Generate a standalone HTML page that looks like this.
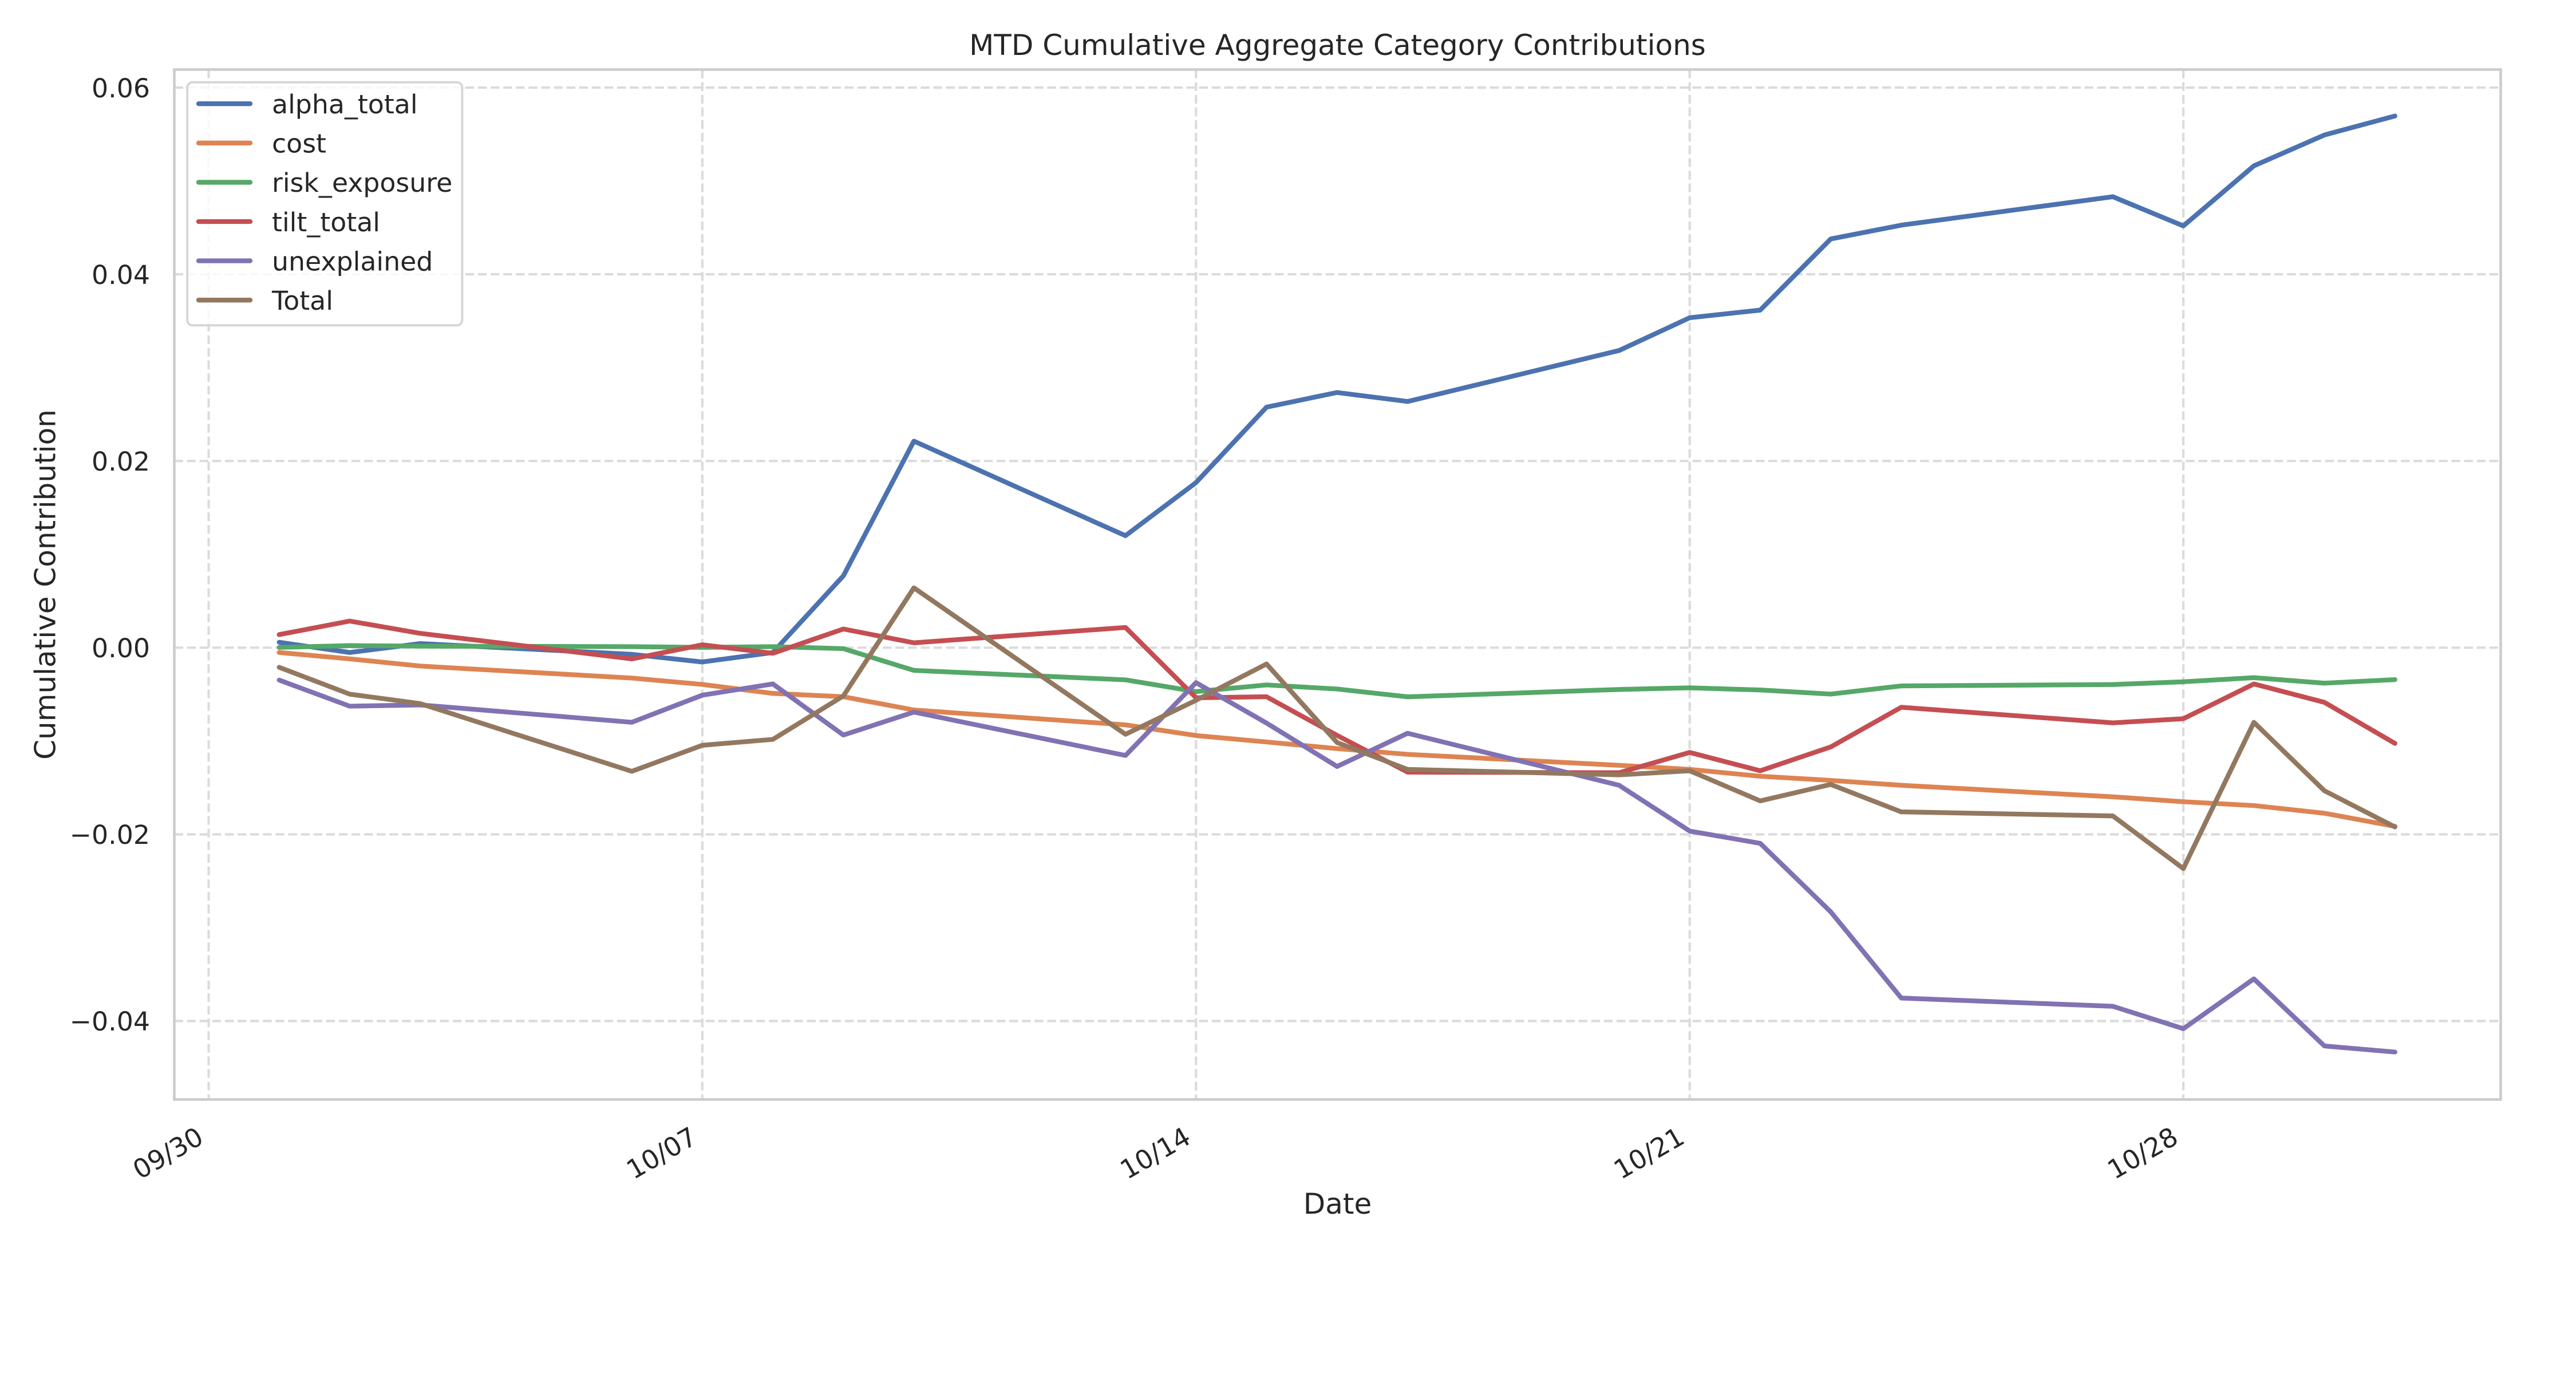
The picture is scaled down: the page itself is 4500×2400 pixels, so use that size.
<!DOCTYPE html>
<html>
<head>
<meta charset="utf-8">
<style>
  html, body { margin: 0; padding: 0; background: #ffffff; }
  svg { display: block; }
  text { font-family: "DejaVu Sans", "Liberation Sans", sans-serif; fill: #262626; }
</style>
</head>
<body>
<svg xmlns="http://www.w3.org/2000/svg" width="4500" height="2400" viewBox="0 0 4500 2400">
  <rect x="0" y="0" width="4500" height="2400" fill="#ffffff"/>

  <!-- Grid -->
  <g stroke="#dbdbdb" stroke-width="4.17" stroke-dasharray="15.4 6.7" fill="none">
    <line x1="304.5" y1="152.9" x2="4368.5" y2="152.9"/>
    <line x1="304.5" y1="479.1" x2="4368.5" y2="479.1"/>
    <line x1="304.5" y1="805.2" x2="4368.5" y2="805.2"/>
    <line x1="304.5" y1="1131.3" x2="4368.5" y2="1131.3"/>
    <line x1="304.5" y1="1457.4" x2="4368.5" y2="1457.4"/>
    <line x1="304.5" y1="1783.5" x2="4368.5" y2="1783.5"/>
    <line x1="364.5" y1="121.5" x2="364.5" y2="1920.5"/>
    <line x1="1226.9" y1="121.5" x2="1226.9" y2="1920.5"/>
    <line x1="2089.3" y1="121.5" x2="2089.3" y2="1920.5"/>
    <line x1="2951.7" y1="121.5" x2="2951.7" y2="1920.5"/>
    <line x1="3814.1" y1="121.5" x2="3814.1" y2="1920.5"/>
  </g>

  <!-- Series -->
  <g fill="none" stroke-width="8.33" stroke-linejoin="round" stroke-linecap="round">
    <polyline stroke="#4c72b0" points="487.7,1121.9 610.9,1139.7 734.1,1124.1 1103.7,1142.9 1226.9,1156.3 1350.1,1139.7 1473.3,1005.8 1596.5,770.5 1966.1,935.7 2089.3,842.9 2212.5,711.2 2335.7,685.6 2458.9,701.3 2828.5,612.2 2951.7,555.0 3074.9,541.7 3198.1,417.4 3321.3,393.3 3690.9,343.6 3814.1,394.6 3937.3,289.7 4060.5,235.8 4183.7,202.6"/>
    <polyline stroke="#dd8452" points="487.7,1139.7 610.9,1150.9 734.1,1163.4 1103.7,1184.4 1226.9,1195.5 1350.1,1211.2 1473.3,1217.0 1596.5,1240.2 1966.1,1266.1 2089.3,1284.8 2212.5,1296.0 2335.7,1307.6 2458.9,1317.6 2828.5,1336.8 2951.7,1343.9 3074.9,1355.9 3198.1,1363.1 3321.3,1371.7 3690.9,1391.8 3814.1,1400.4 3937.3,1407.1 4060.5,1420.5 4183.7,1443.4"/>
    <polyline stroke="#55a868" points="487.7,1130.8 610.9,1127.7 734.1,1128.6 1103.7,1129.5 1226.9,1130.8 1350.1,1129.5 1473.3,1133.0 1596.5,1171.0 1966.1,1187.5 2089.3,1208.0 2212.5,1196.4 2335.7,1203.5 2458.9,1217.2 2828.5,1204.3 2951.7,1201.4 3074.9,1205.2 3198.1,1212.4 3321.3,1198.1 3690.9,1195.7 3814.1,1190.9 3937.3,1183.7 4060.5,1193.3 4183.7,1187.1"/>
    <polyline stroke="#c44e52" points="487.7,1108.5 610.9,1084.8 734.1,1106.3 1103.7,1150.9 1226.9,1126.3 1350.1,1141.1 1473.3,1098.7 1596.5,1122.8 1966.1,1096.0 2089.3,1218.8 2212.5,1217.0 2335.7,1284.5 2458.9,1348.7 2828.5,1349.7 2951.7,1314.3 3074.9,1346.3 3198.1,1304.7 3321.3,1235.4 3690.9,1262.6 3814.1,1255.4 3937.3,1194.7 4060.5,1226.8 4183.7,1298.5"/>
    <polyline stroke="#8172b3" points="487.7,1187.9 610.9,1233.5 734.1,1231.3 1103.7,1261.6 1226.9,1214.3 1350.1,1194.6 1473.3,1283.9 1596.5,1243.8 1966.1,1319.6 2089.3,1192.4 2212.5,1263.0 2335.7,1338.8 2458.9,1280.8 2828.5,1371.7 2951.7,1451.6 3074.9,1473.1 3198.1,1592.7 3321.3,1743.3 3690.9,1757.7 3814.1,1796.9 3937.3,1709.8 4060.5,1827.0 4183.7,1837.6"/>
    <polyline stroke="#937860" points="487.7,1165.6 610.9,1212.5 734.1,1229.0 1103.7,1347.3 1226.9,1301.8 1350.1,1291.5 1473.3,1215.6 1596.5,1026.8 1966.1,1282.6 2089.3,1223.2 2212.5,1159.8 2335.7,1297.0 2458.9,1343.9 2828.5,1353.5 2951.7,1346.3 3074.9,1398.9 3198.1,1370.2 3321.3,1418.1 3690.9,1425.2 3814.1,1517.1 3937.3,1261.7 4060.5,1381.2 4183.7,1444.4"/>
  </g>

  <!-- Spines -->
  <rect x="304.5" y="121.5" width="4064" height="1799" fill="none" stroke="#cccccc" stroke-width="4.6"/>

  <!-- Y tick labels -->
  <g font-size="45.8" text-anchor="end">
    <text x="262" y="170">0.06</text>
    <text x="262" y="496">0.04</text>
    <text x="262" y="822">0.02</text>
    <text x="262" y="1148">0.00</text>
    <text x="262" y="1474">−0.02</text>
    <text x="262" y="1800">−0.04</text>
  </g>

  <!-- X tick labels -->
  <g font-size="45.8" text-anchor="end">
    <text transform="translate(358.5,1995) rotate(-30)">09/30</text>
    <text transform="translate(1220.9,1995) rotate(-30)">10/07</text>
    <text transform="translate(2083.3,1995) rotate(-30)">10/14</text>
    <text transform="translate(2945.7,1995) rotate(-30)">10/21</text>
    <text transform="translate(3808.1,1995) rotate(-30)">10/28</text>
  </g>

  <!-- Axis labels and title -->
  <text x="2336.5" y="2120" font-size="50" text-anchor="middle">Date</text>
  <text transform="translate(96.5,1021) rotate(-90)" font-size="50" text-anchor="middle">Cumulative Contribution</text>
  <text x="2336.5" y="96" font-size="50" text-anchor="middle">MTD Cumulative Aggregate Category Contributions</text>

  <!-- Legend -->
  <rect x="327.2" y="143.8" width="480.2" height="424.5" rx="9" ry="9" fill="#ffffff" fill-opacity="0.8" stroke="#d6d6d6" stroke-width="4"/>
  <g stroke-width="8.33" stroke-linecap="round">
    <line x1="347" y1="181.2" x2="437" y2="181.2" stroke="#4c72b0"/>
    <line x1="347" y1="249.8" x2="437" y2="249.8" stroke="#dd8452"/>
    <line x1="347" y1="318.4" x2="437" y2="318.4" stroke="#55a868"/>
    <line x1="347" y1="387.0" x2="437" y2="387.0" stroke="#c44e52"/>
    <line x1="347" y1="455.6" x2="437" y2="455.6" stroke="#8172b3"/>
    <line x1="347" y1="524.2" x2="437" y2="524.2" stroke="#937860"/>
  </g>
  <g font-size="45.8">
    <text x="475" y="198">alpha_total</text>
    <text x="475" y="266.6">cost</text>
    <text x="475" y="335.2">risk_exposure</text>
    <text x="475" y="403.8">tilt_total</text>
    <text x="475" y="472.4">unexplained</text>
    <text x="475" y="541">Total</text>
  </g>
</svg>
</body>
</html>
